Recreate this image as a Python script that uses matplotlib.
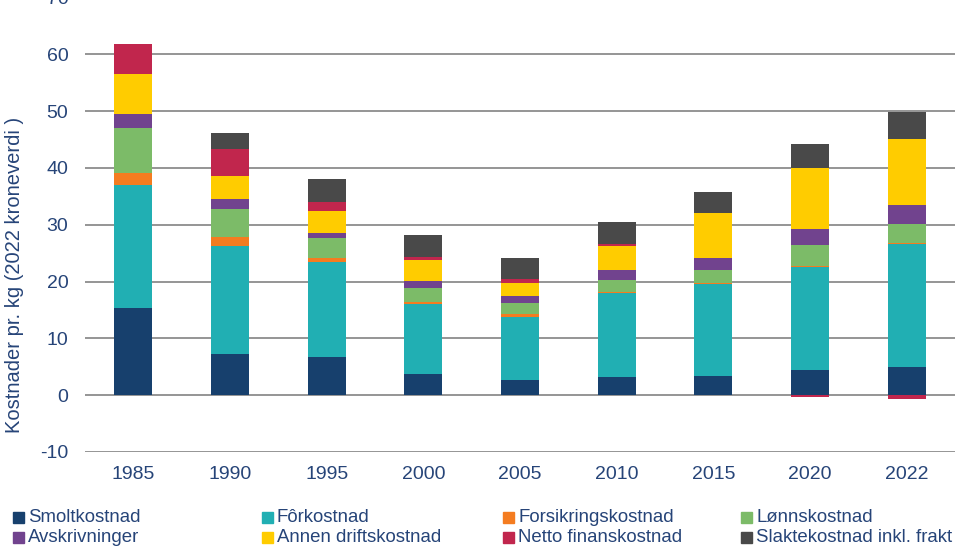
import matplotlib
matplotlib.use("Agg")
import matplotlib.pyplot as plt
import numpy as np
from matplotlib.patches import Rectangle

plt.rcParams["axes.unicode_minus"] = False

years = ["1985", "1990", "1995", "2000", "2005", "2010", "2015", "2020", "2022"]
series_names = ["Smoltkostnad", "Fôrkostnad", "Forsikringskostnad", "Lønnskostnad",
                "Avskrivninger", "Annen driftskostnad", "Netto finanskostnad",
                "Slaktekostnad inkl. frakt"]
smolt = [15.4, 7.2, 6.8, 3.75, 2.7, 3.2, 3.4, 4.4, 5.0]
forkost = [21.5, 19.1, 16.6, 12.25, 11.0, 14.7, 16.1, 18.1, 21.6]
forsikring = [2.2, 1.5, 0.8, 0.4, 0.5, 0.2, 0.2, 0.2, 0.2]
lonn = [7.9, 4.9, 3.4, 2.5, 2.0, 2.2, 2.4, 3.7, 3.4]
avskriv = [2.5, 1.9, 0.9, 1.2, 1.3, 1.7, 2.1, 2.9, 3.2]
annen = [7.0, 4.0, 3.9, 3.7, 2.2, 4.3, 7.8, 10.6, 11.6]
netto_fin = [5.3, 4.8, 1.6, 0.6, 0.8, 0.3, 0.0, -0.4, -0.7]
slakte = [0.0, 2.8, 4.0, 3.8, 3.7, 3.9, 3.7, 4.3, 4.8]

series = [smolt, forkost, forsikring, lonn, avskriv, annen, netto_fin, slakte]
colors = ["#17406D", "#21AFB3", "#F47C20", "#7CBB68", "#71438E", "#FFCC00",
          "#C1264D", "#494949"]
text_color = "#264478"
grid_color = "#8C8C8C"
font = "Liberation Sans"

fig = plt.figure(figsize=(9.6, 5.48), dpi=100)
ax = fig.add_axes([85 / 960, (548 - 452) / 548, 870 / 960, 454.6 / 548])

x = np.arange(len(years))
pos_bottom = np.zeros(len(years))
neg_bottom = np.zeros(len(years))
for vals, c in zip(series, colors):
    v = np.array(vals, dtype=float)
    bottoms = np.where(v >= 0, pos_bottom, neg_bottom)
    ax.bar(x, v, bottom=bottoms, width=0.39, color=c, zorder=3, linewidth=0)
    pos_bottom += np.where(v >= 0, v, 0)
    neg_bottom += np.where(v < 0, v, 0)

ax.set_xlim(-0.5, len(years) - 0.5)
ax.set_ylim(-10, 70)
ax.set_yticks(np.arange(-10, 71, 10))
ax.set_xticks(x)
ax.set_xticklabels(years)
ax.yaxis.grid(True, color=grid_color, linewidth=1.3, zorder=0)
ax.set_axisbelow(True)
for s in ax.spines.values():
    s.set_visible(False)
ax.tick_params(axis="both", length=0, colors=text_color, labelsize=14)
ax.tick_params(axis="x", pad=10)
ax.tick_params(axis="y", pad=12)
for lab in ax.get_xticklabels() + ax.get_yticklabels():
    lab.set_fontfamily(font)
ax.set_ylabel("Kostnader pr. kg (2022 kroneverdi )", color=text_color,
              fontsize=14.5, fontfamily=font, va="center")
ax.yaxis.set_label_coords(-0.0805, 0.389)

# legend, 2 rows x 4 columns
col_x = [13, 262, 503, 741]
row_y = [517, 537]
for i, (name, c) in enumerate(zip(series_names, colors)):
    r, col = divmod(i, 4)
    px, py = col_x[col], row_y[r]
    fig.patches.append(Rectangle((px / 960, (548 - py - 5.5) / 548), 11 / 960, 11 / 548,
                                 transform=fig.transFigure, color=c, figure=fig))
    fig.text((px + 15) / 960, (548 - py) / 548, name, color=text_color,
             fontsize=13.4, fontfamily=font, va="center", ha="left")

fig.savefig("out.png", dpi=100)
